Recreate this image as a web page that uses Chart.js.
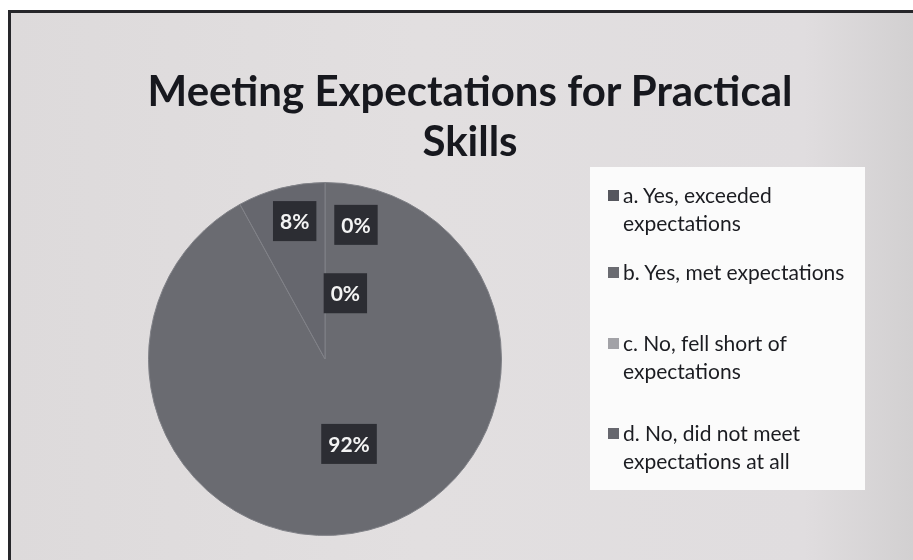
<!DOCTYPE html>
<html>
<head>
<meta charset="utf-8">
<title>Meeting Expectations for Practical Skills</title>
<script src="https://cdn.jsdelivr.net/npm/chart.js@4.4.1/dist/chart.umd.min.js"></script>
<style>
  html, body { margin: 0; padding: 0; background: #fff; }
  #frame {
    position: relative; width: 913px; height: 560px; overflow: hidden;
    background: #fff;
  }
  #panel {
    position: absolute; left: 8px; top: 10px; right: 0; bottom: 0;
    border-left: 3px solid #26262a; border-top: 3px solid #26262a;
    background: linear-gradient(to right, #dddadb 0%, #e2dfe0 45%, #e0dddf 88%, #d2d0d1 100%);
  }
  #legendBox {
    position: absolute; left: 590px; top: 167px; width: 275px; height: 323px;
    background: #fbfbfb;
  }
  #chart { position: absolute; left: 0; top: 0; }
  #title {
    position: absolute; left: 0; top: 65px; width: 940px;
    text-align: center; font: bold 42px Lato, sans-serif; line-height: 50px;
    color: #17181e;
  }
  #legend {
    position: absolute; left: 608px; top: 181px; margin: 0; padding: 0;
    list-style: none; font: 21px Lato, sans-serif; line-height: 28px; color: #1b1c21;
  }
  #legend li { position: relative; padding-left: 15px; }
  #legend li span.box {
    position: absolute; left: 0; top: 9px; width: 11px; height: 11px;
  }
  #legend li:nth-child(2) { margin-top: 21px; }
  #legend li:nth-child(3) { margin-top: 43px; }
  #legend li:nth-child(4) { margin-top: 34px; }
</style>
</head>
<body>
<div id="frame">
  <div id="panel"></div>
  <div id="legendBox"></div>
  <canvas id="chart" width="913" height="560"></canvas>
  <div id="title">Meeting Expectations for Practical<br>Skills</div>
  <ul id="legend"></ul>
</div>
<script>
// survey answers and share of responses (%)
const answers = [
  ['a. Yes, exceeded', 'expectations'],
  ['b. Yes, met expectations'],
  ['c. No, fell short of', 'expectations'],
  ['d. No, did not meet', 'expectations at all']
];
const shares = [0, 92, 0, 8];
const sliceColors = ['#56575e', '#6a6b71', '#a2a2a7', '#66676e'];

// where each percentage box sits: fraction of radius, and a turn (degrees) off the slice middle
const labelSpots = [
  { r: 0.78, turn: 13 },
  { r: 0.50, turn: -1.4 },
  { r: 0.39, turn: 46 },
  { r: 0.80, turn: 2 }
];

const percentBoxes = {
  id: 'percentBoxes',
  afterDatasetsDraw(chart) {
    const ctx = chart.ctx;
    const arcs = chart.getDatasetMeta(0).data;
    ctx.save();
    ctx.font = 'bold 21px Lato, sans-serif';
    ctx.textAlign = 'center';
    ctx.textBaseline = 'middle';
    arcs.forEach((arc, i) => {
      const p = arc.getProps(['x', 'y', 'startAngle', 'endAngle', 'outerRadius'], true);
      const spot = labelSpots[i];
      const mid = (p.startAngle + p.endAngle) / 2 + spot.turn * Math.PI / 180;
      const cx = p.x + Math.cos(mid) * p.outerRadius * spot.r;
      const cy = p.y + Math.sin(mid) * p.outerRadius * spot.r;
      const text = shares[i] + '%';
      const w = ctx.measureText(text).width + 14;
      const h = 40;
      ctx.fillStyle = '#2c2d33';
      ctx.fillRect(cx - w / 2, cy - h / 2, w, h);
      ctx.fillStyle = '#f4f4f4';
      ctx.fillText(text, cx, cy + 1);
    });
    ctx.restore();
  }
};

const chart = new Chart(document.getElementById('chart'), {
  type: 'pie',
  data: {
    labels: answers.map(a => a.join(' ')),
    datasets: [{
      data: shares,
      backgroundColor: sliceColors,
      borderColor: '#808187',
      borderWidth: 1
    }]
  },
  options: {
    responsive: false,
    devicePixelRatio: 1,
    animation: false,
    layout: { padding: { left: 148, right: 411, top: 182, bottom: 24 } },
    plugins: {
      legend: { display: false },
      title: { display: false },
      tooltip: { enabled: false }
    }
  },
  plugins: [percentBoxes]
});

// legend built from the same labels and colours
const legend = document.getElementById('legend');
answers.forEach((lines, i) => {
  const li = document.createElement('li');
  const box = document.createElement('span');
  box.className = 'box';
  box.style.background = sliceColors[i];
  li.appendChild(box);
  lines.forEach((line, j) => {
    if (j > 0) li.appendChild(document.createElement('br'));
    li.appendChild(document.createTextNode(line));
  });
  legend.appendChild(li);
});
</script>
</body>
</html>
